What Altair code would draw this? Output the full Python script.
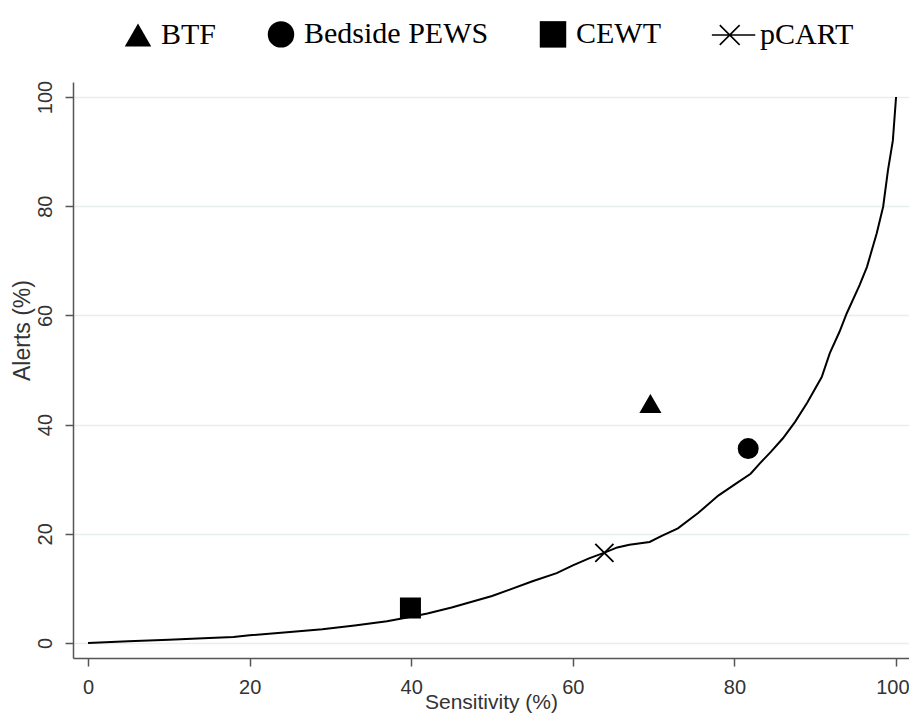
import altair as alt
import pandas as pd

# pCART curve (sensitivity vs. alerts)
sens = [0, 5, 10, 15, 18, 20, 25, 29, 33, 37, 40, 42, 45, 50, 55, 58, 60, 62, 64,
        65.5, 67, 69.5, 71, 73, 75.5, 78, 80, 82, 83.2, 84.5, 86, 87.5, 89, 90.8,
        91.8, 93, 93.9, 95.5, 96.4, 97.6, 98.4, 99, 99.6, 100]
alerts = [0, 0.3, 0.6, 0.9, 1.1, 1.4, 2.0, 2.5, 3.2, 4.0, 4.8, 5.4, 6.5, 8.6, 11.3,
          12.8, 14.2, 15.5, 16.6, 17.5, 18.0, 18.5, 19.6, 21.0, 23.8, 27.0, 29.0,
          31.0, 33.0, 35.0, 37.5, 40.5, 44.0, 48.7, 53.1, 57.0, 60.4, 65.6, 68.9,
          75.0, 79.9, 86.6, 92.0, 100.0]

# single-point scores
model_names = ["BTF", "Bedside PEWS", "CEWT"]
model_sens = [69.6, 81.7, 39.9]
model_alerts = [43.8, 35.6, 6.4]

pcart_name = ["pCART"]
pcart_sens = [63.9]
pcart_alerts = [16.5]

legend_domain = ["BTF", "Bedside PEWS", "CEWT", "pCART"]
tick_values = [0, 20, 40, 60, 80, 100]

X_PATH = "M-1,-1L1,1M-1,1L1,-1"
# legend glyph for pCART: horizontal line with an X (filled thin strokes)
PCART_LEGEND_PATH = (
    "M-1.9,-0.06L1.38,-0.06L1.38,0.06L-1.9,0.06Z"
    "M-1.2576,-0.7924L0.2424,0.7076L0.1576,0.7924L-1.3424,-0.7076Z"
    "M-1.2576,0.7924L-1.3424,0.7076L0.1576,-0.7924L0.2424,-0.7076Z"
)
shape_range = ["triangle-up", "circle", "square", PCART_LEGEND_PATH]

curve_df = pd.DataFrame({"sens": sens, "alerts": alerts})
pts_df = pd.DataFrame({"model": model_names, "sens": model_sens, "alerts": model_alerts})
pc_df = pd.DataFrame({"model": pcart_name, "sens": pcart_sens, "alerts": pcart_alerts})

x_scale = alt.Scale(domain=[-1.86, 101.6], nice=False, zero=False)
y_scale = alt.Scale(domain=[-2.75, 102.75], nice=False, zero=False)

x_axis = alt.Axis(title="Sensitivity (%)", values=tick_values, grid=False,
                  tickSize=8, labelFontSize=20, labelPadding=11, labelFlush=14,
                  labelFlushOffset=13, labelOverlap=False, titleFontSize=21,
                  titleY=50, titleBaseline="alphabetic")
y_axis = alt.Axis(title="Alerts (%)", values=tick_values, grid=True,
                  gridColor="#e6eeee", gridWidth=1.5, tickSize=8,
                  labelAngle=270, labelAlign="center", labelBaseline="alphabetic",
                  labelPadding=14, labelFontSize=20, labelFlush=False,
                  labelOverlap=False, titleFontSize=23, titleAngle=270,
                  titleX=-44, titleY=248, titleBaseline="alphabetic",
                  titleAlign="center")

x_enc = alt.X("sens:Q", scale=x_scale, axis=x_axis)
y_enc = alt.Y("alerts:Q", scale=y_scale, axis=y_axis)

line = alt.Chart(curve_df).mark_line(color="black", strokeWidth=2).encode(
    x=x_enc, y=y_enc)

points = alt.Chart(pts_df).mark_point(
    filled=True, color="black", stroke="black", strokeWidth=1.5, size=380, opacity=1
).encode(
    x=alt.X("sens:Q", scale=x_scale),
    y=alt.Y("alerts:Q", scale=y_scale),
    shape=alt.Shape(
        "model:N", title=None,
        scale=alt.Scale(domain=legend_domain, range=shape_range),
        legend=alt.Legend(
            orient="none", legendX=50, legendY=-63, direction="horizontal",
            columns=4, symbolSize=700, symbolFillColor="black",
            symbolStrokeColor="black", symbolStrokeWidth=1.5, symbolOpacity=1,
            labelFont="Liberation Serif", labelFontSize=30, labelColor="black",
            labelLimit=400, labelOffset=8, columnPadding=47,
        ),
    ),
)

pcart_pt = alt.Chart(pc_df).mark_point(
    shape=X_PATH, filled=False, stroke="black", strokeWidth=1.8, size=330, opacity=1
).encode(
    x=alt.X("sens:Q", scale=x_scale),
    y=alt.Y("alerts:Q", scale=y_scale),
)

chart = alt.layer(line, points, pcart_pt).properties(
    width=836, height=576,
    autosize=alt.AutoSizeParams(type="none"),
    padding={"left": 65, "top": 74, "right": 0, "bottom": 56},
    background="white",
).configure_axis(
    domainColor="#555555", domainWidth=1.5, tickColor="#555555", tickWidth=1.5,
    labelColor="#333333", titleColor="#333333", labelFont="Liberation Sans",
    titleFont="Liberation Sans", titleFontWeight="normal",
).configure_view(strokeWidth=0)

chart.save("out.html", embed_options={"renderer": "svg", "actions": False})
